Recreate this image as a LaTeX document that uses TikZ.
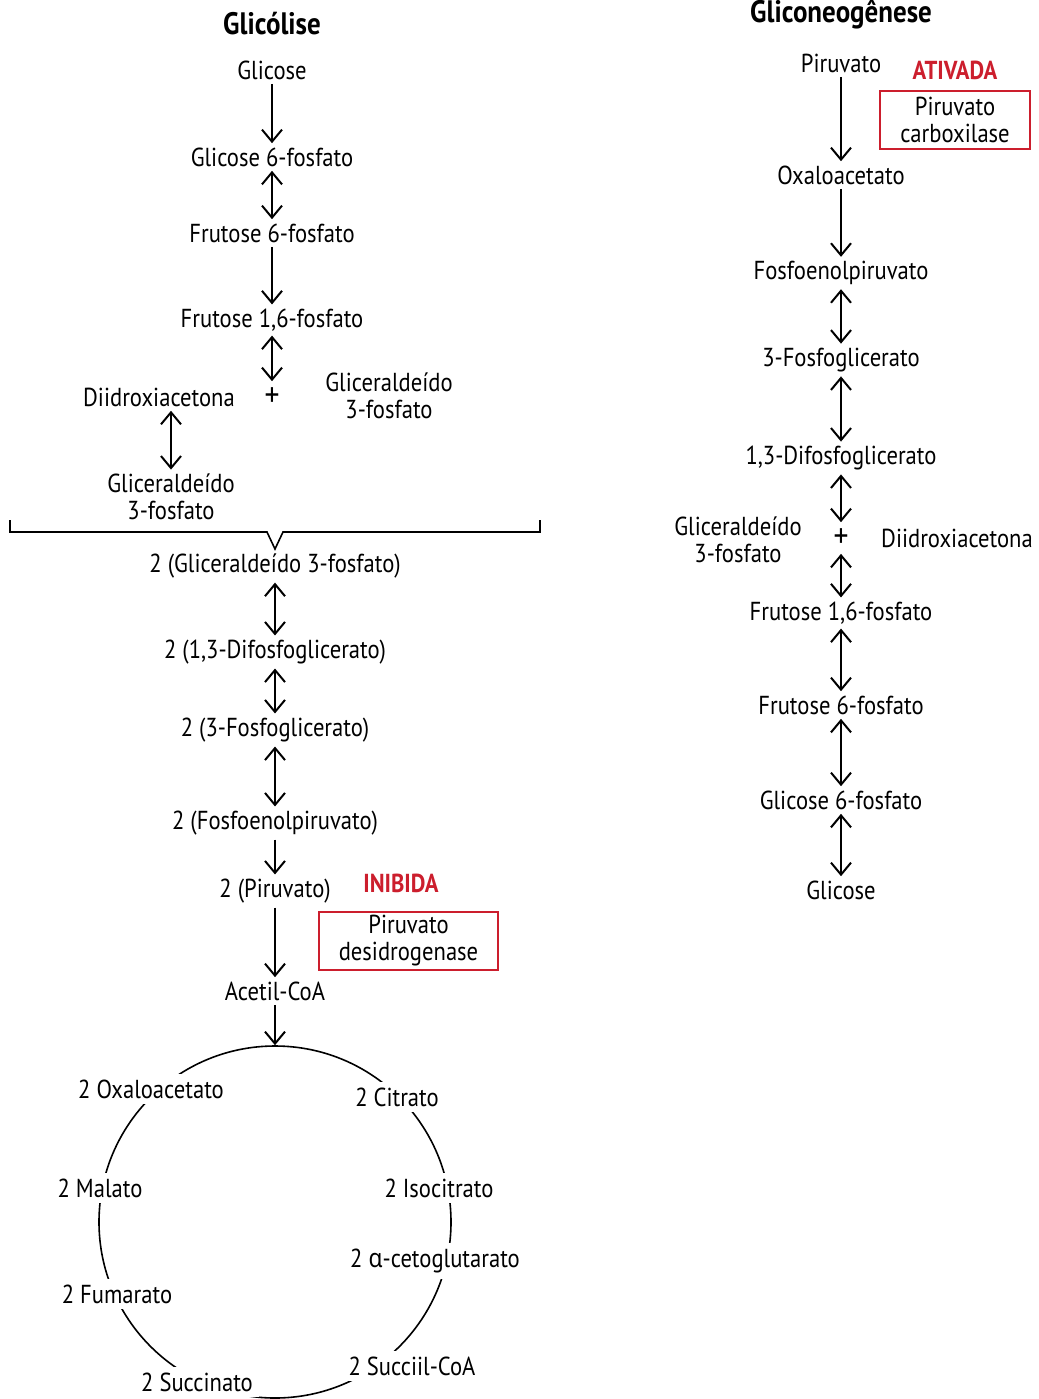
\documentclass[tikz,border=0pt]{standalone}
\usepackage{fontspec}
\setmainfont{PT Sans}[FakeStretch=0.87]
\newfontfamily\grega{Noto Sans}[FakeStretch=0.87]
\usepackage{tikz}
\usetikzlibrary{arrows.meta,positioning,shapes}
\definecolor{alerta}{RGB}{204,30,45}

\begin{document}
\begin{tikzpicture}[x=0.5pt,y=-0.5pt,
  every node/.style={font=\fontsize{13}{13.5}\selectfont,inner sep=2pt},
  mol/.style={align=center},
  mais/.style={font=\fontsize{17}{17}\selectfont,inner sep=3pt},
  seta/.style={-{Straight Barb[length=6pt,width=10pt]},line width=1pt},
  dupla/.style={{Straight Barb[length=6pt,width=10pt]}-{Straight Barb[length=6pt,width=10pt]},line width=1pt},
  titulo/.style={font=\fontsize{15.5}{17}\selectfont\bfseries},
  aviso/.style={font=\fontsize{13}{14}\selectfont\bfseries,text=alerta},
  enzima/.style={draw=alerta,line width=1pt,align=center,minimum height=29pt},
  ciclo/.style={fill=white,inner sep=3pt}]
\useasboundingbox (0,0) rectangle (1039,1399);

% Glicolise
\node[titulo] (tg) at (272,24) {Glicólise};
\node (g1) at (272,70) {Glicose};
\node (g2) at (272,157) {Glicose 6-fosfato};
\node (g3) at (272,233) {Frutose 6-fosfato};
\node (g4) at (272,320) {Frutose 1,6-fosfato};
\node (g5a) at (159,397) {Diidroxiacetona};
\node[mais] (g5) at (272,397) {+};
\node[mol] (g5b) at (389,396) {Gliceraldeído\\3-fosfato};
\node[mol] (g6) at (171,497) {Gliceraldeído\\3-fosfato};

\draw[seta] (g1) -- (g2);
\draw[dupla] (g2) -- (g3);
\draw[seta] (g3) -- (g4);
\draw[dupla] (g4) -- (g5);
\draw[dupla] (g6.north |- g5a.south) -- (g6.north);

\coordinate (ch1) at (10,520);
\coordinate (ch2) at (540,520);
\draw[line width=0.8pt] (ch1) -- (10,532) -- (267,532) -- (275,549) -- (283,532) -- (540,532) -- (ch2);

\node (g7) at (275,566) {2 (Gliceraldeído 3-fosfato)};
\node (g8) at (275,652) {2 (1,3-Difosfoglicerato)};
\node (g9) at (275,730) {2 (3-Fosfoglicerato)};
\node (g10) at (275,823) {2 (Fosfoenolpiruvato)};
\node (g11) at (275,891) {2 (Piruvato)};
\node (g12) at (275,991) {Acetil-CoA};
\node[aviso] (ini) at (401,883) {INIBIDA};
\node[enzima,minimum width=89.5pt] (pdh) at (408.5,941) {Piruvato\\desidrogenase};

\draw[dupla] (g7) -- (g8);
\draw[dupla] (g8) -- (g9);
\draw[dupla] (g9) -- (g10);
\draw[seta] (g10) -- (g11);
\draw[seta] (g11) -- (g12);

% ciclo
\node[draw,circle,minimum size=176pt,inner sep=0pt,line width=0.8pt] (krebs) at (275,1222) {};
\draw[seta] (g12) -- (krebs.north);
\node[ciclo] (k1) at (151,1089) {2 Oxaloacetato};
\node[ciclo] (k2) at (397,1097) {2 Citrato};
\node[ciclo] (k3) at (439,1188) {2 Isocitrato};
\node[ciclo] (k4) at (435,1261) {2 {\grega α}-cetoglutarato};
\node[ciclo] (k5) at (412,1366) {2 Succiil-CoA};
\node[ciclo] (k6) at (197,1382) {2 Succinato};
\node[ciclo] (k7) at (117,1294) {2 Fumarato};
\node[ciclo] (k8) at (100,1188) {2 Malato};

% Gliconeogenese
\node[titulo] (tc) at (841,14) {Gliconeogênese};
\node (c1) at (841,63) {Piruvato};
\node[aviso] (ati) at (955,70) {ATIVADA};
\node[enzima,minimum width=75pt] (pc) at (955,120) {Piruvato\\carboxilase};
\node (c2) at (841,175) {Oxaloacetato};
\node (c3) at (841,273) {Fosfoenolpiruvato};
\node (c4) at (841,360) {3-Fosfoglicerato};
\node (c5) at (841,458) {1,3-Difosfoglicerato};
\node[mol] (c6a) at (738,540) {Gliceraldeído\\3-fosfato};
\node[mais] (c6) at (841,538) {+};
\node (c6b) at (957,538) {Diidroxiacetona};
\node (c7) at (841,613) {Frutose 1,6-fosfato};
\node (c8) at (841,705) {Frutose 6-fosfato};
\node (c9) at (841,800) {Glicose 6-fosfato};
\node (c10) at (841,890) {Glicose};

\draw[seta] (c1) -- (c2);
\draw[seta] (c2) -- (c3);
\draw[dupla] (c3) -- (c4);
\draw[dupla] (c4) -- (c5);
\draw[dupla] (c5) -- (c6);
\draw[dupla] (c6) -- (c7);
\draw[dupla] (c7) -- (c8);
\draw[dupla] (c8) -- (c9);
\draw[dupla] (c9) -- (c10);
\end{tikzpicture}
\end{document}
